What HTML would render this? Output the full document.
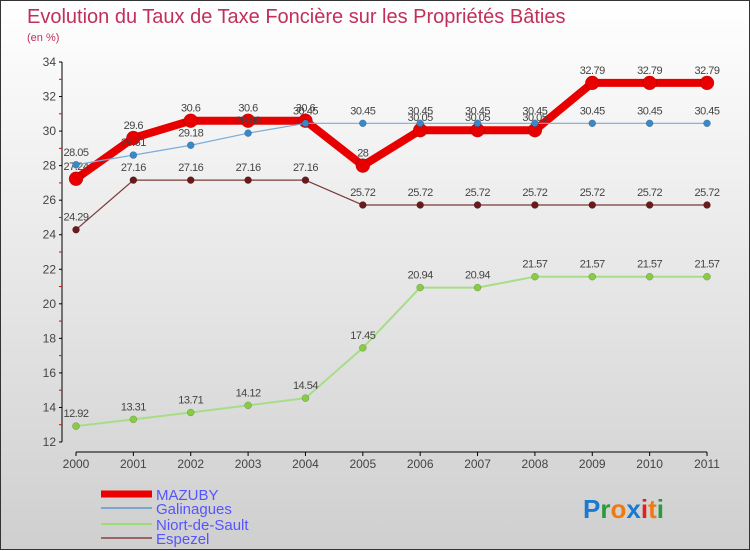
<!DOCTYPE html>
<html><head><meta charset="utf-8"><style>
body{margin:0}
#c{width:750px;height:550px;position:relative;background:linear-gradient(#ffffff,#cfcfcf);box-sizing:border-box;border:1px solid #333;font-family:"Liberation Sans",sans-serif}
</style></head><body>
<div id="c">
<svg id="s" width="750" height="550" style="position:absolute;left:0;top:0">
<text x="26" y="22" font-size="20" fill="#c0305a">Evolution du Taux de Taxe Foncière sur les Propriétés Bâties</text>
<text x="26" y="40" font-size="11" fill="#c0305a">(en %)</text>
<g id="axes"></g><g id="series"></g>
<g>
<line x1="100" y1="493" x2="151" y2="493" stroke="#e00" stroke-width="7"/>
<text x="155" y="499" font-size="15" fill="#5555ff">MAZUBY</text>
<line x1="100" y1="507" x2="151" y2="507" stroke="#7aa6d0" stroke-width="2"/>
<text x="155" y="513" font-size="15" fill="#5555ff">Galinagues</text>
<line x1="100" y1="523" x2="151" y2="523" stroke="#99dd77" stroke-width="2"/>
<text x="155" y="529" font-size="15" fill="#5555ff">Niort-de-Sault</text>
<line x1="100" y1="537" x2="151" y2="537" stroke="#996666" stroke-width="2"/>
<text x="155" y="543" font-size="15" fill="#5555ff">Espezel</text>
</g>
<g font-size="26" font-weight="bold">
<text x="582" y="517"><tspan fill="#1a7ad0">P</tspan><tspan fill="#2a9a3a">r</tspan><tspan fill="#f07a10">o</tspan><tspan fill="#1a7ad0">x</tspan><tspan fill="#e02020">i</tspan><tspan fill="#f07a10">t</tspan><tspan fill="#2a9a3a">i</tspan></text>
</g>
</svg>
</div>
<script>
const years=["2000","2001","2002","2003","2004","2005","2006","2007","2008","2009","2010","2011"];
const yTicks=[12,14,16,18,20,22,24,26,28,30,32,34];
const mazuby=[27.24,29.6,30.6,30.6,30.6,28,30.05,30.05,30.05,32.79,32.79,32.79];
const galinagues=[28.05,28.61,29.18,29.88,30.45,30.45,30.45,30.45,30.45,30.45,30.45,30.45];
const niort=[12.92,13.31,13.71,14.12,14.54,17.45,20.94,20.94,21.57,21.57,21.57,21.57];
const espezel=[24.29,27.16,27.16,27.16,27.16,25.72,25.72,25.72,25.72,25.72,25.72,25.72];
const NS="http://www.w3.org/2000/svg";
const X=i=>75+i*(631/11);
const Y=v=>441-(v-12)*(380/22);
function mk(tag,attrs,parent){const e=document.createElementNS(NS,tag);for(const k in attrs)e.setAttribute(k,attrs[k]);parent.appendChild(e);return e;}
const ax=document.getElementById('axes');
let yl=mk('line',{x1:61,y1:Y(34),x2:61,y2:Y(12),stroke:'#000'},ax);


let xl=mk('line',{x1:75,y1:451,x2:706,y2:451,stroke:'#000'},ax);


yTicks.forEach(v=>{
  mk('line',{x1:58,y1:Y(v),x2:61,y2:Y(v),stroke:'#000'},ax);
  if(v<34)mk('line',{x1:58,y1:Y(v+1),x2:61,y2:Y(v+1),stroke:'#e00'},ax);
  const t=mk('text',{x:55,y:Y(v)+4,'font-size':12,fill:'#444','text-anchor':'end'},ax);
  t.textContent=v;
  
  
});
years.forEach((y,i)=>{
  mk('line',{x1:X(i),y1:451,x2:X(i),y2:455,stroke:'#000'},ax);
  const t=mk('text',{x:X(i),y:467,'font-size':12,fill:'#444','text-anchor':'middle'},ax);
  t.textContent=y;
  
  
});
const sg=document.getElementById('series');
function draw(data,name,color,lw,dot,dotColor){
  const g=mk('g',{},sg);
  
  
  mk('polyline',{points:data.map((v,i)=>X(i)+','+Y(v)).join(' '),fill:'none',stroke:color,'stroke-width':lw,'stroke-linejoin':'round'},g);
  data.forEach((v,i)=>{
    const c=mk('circle',{cx:X(i),cy:Y(v),r:dot,fill:dotColor,stroke:'rgba(0,0,0,0.3)','stroke-width':0.5},g);
    
    
    const t=mk('text',{x:X(i),y:Y(v)-9,'font-size':11,fill:'#444','text-anchor':'middle','letter-spacing':'-0.5'},g);
    t.textContent=v;
    
    
  });
}
draw(niort,'niort-de-sault','#a8dd88',2,3.5,'#88cc44');
draw(espezel,'espezel','#7a3a3a',1.2,3.5,'#6a1a1a');
draw(mazuby,'mazuby','#e80000',8,7,'#e80000');
draw(galinagues,'galinagues','#7aacd8',1.2,3.5,'#3a88c8');
</script>
</body></html>
